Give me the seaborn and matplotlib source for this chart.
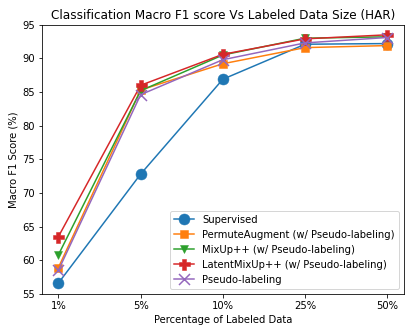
import numpy as np
import pandas as pd
import matplotlib
matplotlib.use("Agg")
import matplotlib.pyplot as plt
import seaborn as sns

# data
label_sizes = ["1%", "5%", "10%", "25%", "50%"]
supervised = [56.6, 72.8, 86.9, 92.1, 92.2]
permute_augment = [58.9, 85.3, 89.2, 91.6, 91.9]
mixup = [60.8, 85.2, 90.5, 93.0, 93.2]
latent_mixup = [63.5, 86.0, 90.6, 92.9, 93.5]
pseudo_labeling = [58.5, 84.6, 89.8, 92.3, 93.1]

methods = ["Supervised", "PermuteAugment (w/ Pseudo-labeling)", "MixUp++ (w/ Pseudo-labeling)",
           "LatentMixUp++ (w/ Pseudo-labeling)", "Pseudo-labeling"]
scores = [supervised, permute_augment, mixup, latent_mixup, pseudo_labeling]
markers = ["o", "s", "v", "P", "x"]
msizes = [11, 8, 8, 11, 11]
colors = sns.color_palette("tab10", 5)

rows = []
for m, vals in zip(methods, scores):
    for s, v in zip(label_sizes, vals):
        rows.append({"Method": m, "Size": s, "F1": v})
df = pd.DataFrame(rows)

DPI = 72
fig, ax = plt.subplots(figsize=(415 / DPI, 334 / DPI), dpi=DPI)
fig.subplots_adjust(left=0.101, right=0.973, top=0.926, bottom=0.12)

for m, mk, ms, c in zip(methods, markers, msizes, colors):
    sns.lineplot(data=df[df["Method"] == m], x="Size", y="F1", marker=mk,
                 markersize=ms, color=c, label=m, ax=ax, markeredgecolor=c,
                 markeredgewidth=1.5 if mk == "x" else 0.5)

ax.set_ylim(55, 95)
ax.set_title("Classification Macro F1 score Vs Labeled Data Size (HAR)")
ax.set_xlabel("Percentage of Labeled Data")
ax.set_ylabel("Macro F1 Score (%)")
ax.legend(loc="lower right")

plt.savefig("out.png", dpi=DPI)
